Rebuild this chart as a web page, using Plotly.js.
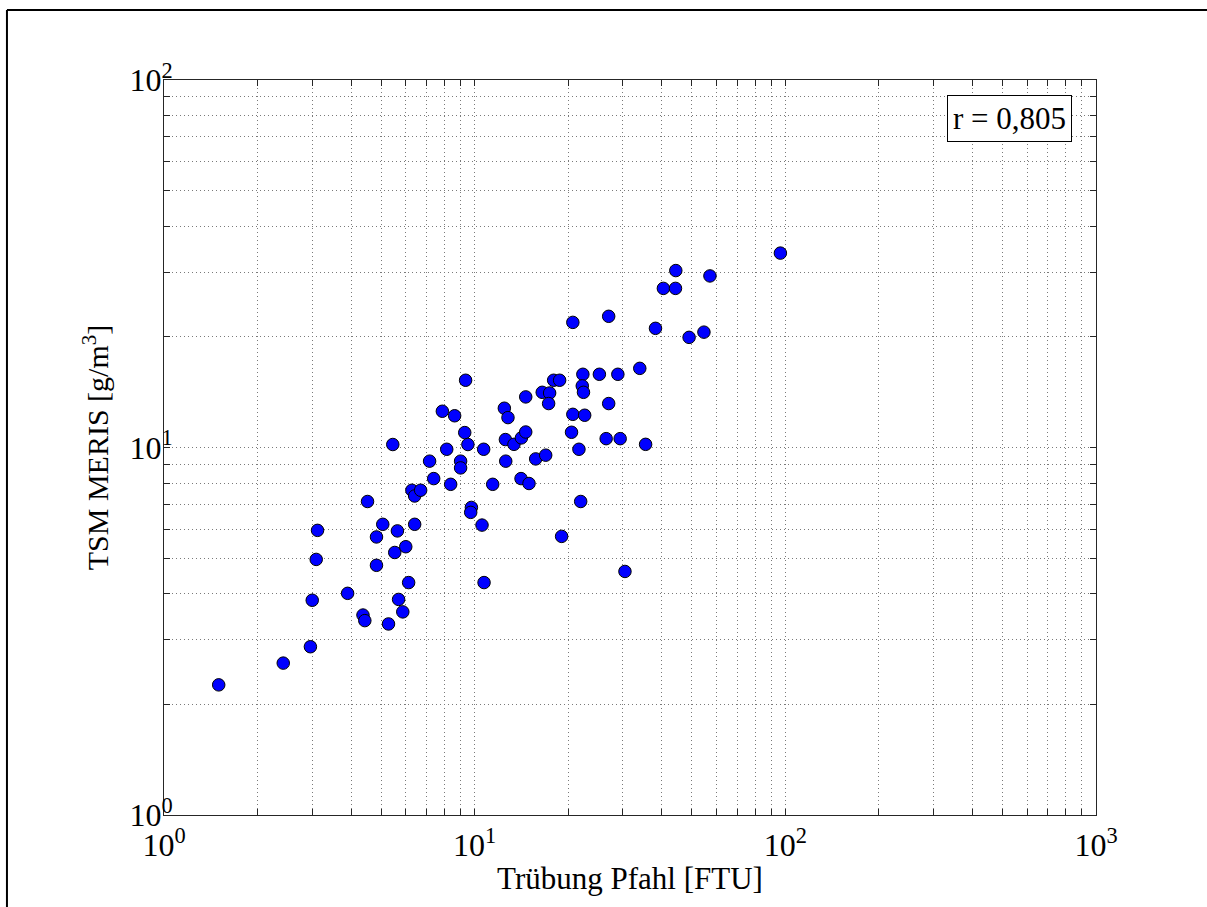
<!DOCTYPE html>
<html>
<head>
<meta charset="utf-8">
<script src="https://cdn.plot.ly/plotly-3.0.1.min.js"></script>
<style>
  html, body { margin: 0; padding: 0; background: #fff; }
  #chart { width: 1207px; height: 907px; }
</style>
</head>
<body>
<div id="chart"></div>
<script>
// Turbidity at the pile (FTU)
const truebung = [
  1.50, 2.42, 2.96, 3.00, 3.09, 3.12, 3.90, 4.37, 4.43, 4.52,
  4.83, 4.83, 5.06, 5.28, 5.45, 5.53, 5.64, 5.69, 5.87, 6.00,
  6.13, 6.28, 6.41, 6.41, 6.70, 7.16, 7.38, 7.87, 8.13, 8.37,
  8.62, 9.01, 9.01, 9.29, 9.35, 9.51, 9.76, 9.71, 10.56, 10.69,
  10.72,
  96.4, 44.4, 57.2, 40.5, 44.3, 20.7, 27.0, 38.2, 49.0, 54.7,
  34.0, 22.3, 25.2, 28.9, 17.96, 18.77, 22.2, 22.4, 16.5, 17.43,
  17.3, 14.6, 27.0, 12.46, 12.8, 20.7, 22.6, 20.5, 12.56, 13.38,
  14.14, 14.6, 21.66, 26.5, 29.4, 35.5, 12.59, 15.72, 16.93, 11.43,
  14.1, 14.96, 19.05, 21.94, 30.46
];
// TSM from MERIS (g/m^3)
const tsmMeris = [
  2.26, 2.59, 2.87, 3.84, 4.96, 5.95, 4.01, 3.50, 3.38, 7.13,
  5.71, 4.78, 6.18, 3.31, 10.19, 5.18, 5.93, 3.86, 3.57, 5.37,
  4.29, 7.65, 7.38, 6.18, 7.65, 9.18, 8.23, 12.55, 9.89, 7.94,
  12.2, 9.18, 8.80, 10.98, 15.24, 10.19, 6.87, 6.66, 6.15, 9.89,
  4.29,
  33.8, 30.3, 29.3, 27.1, 27.1, 21.9, 22.75, 21.1, 19.94, 20.6,
  16.42, 15.82, 15.82, 15.82, 15.24, 15.24, 14.71, 14.13, 14.13, 14.07,
  13.17, 13.73, 13.17, 12.79, 12.06, 12.31, 12.24, 11.0, 10.51, 10.2,
  10.62, 11.02, 9.89, 10.57, 10.57, 10.2, 9.18, 9.31, 9.53, 7.94,
  8.23, 7.98, 5.73, 7.13, 4.60
];

const xTickVals = [1,2,3,4,5,6,7,8,9,10,20,30,40,50,60,70,80,90,100,200,300,400,500,600,700,800,900,1000];
const xTickText = ['10<sup>0</sup>','','','','','','','','','10<sup>1</sup>','','','','','','','','','10<sup>2</sup>','','','','','','','','','10<sup>3</sup>'];
const yTickVals = [1,2,3,4,5,6,7,8,9,10,20,30,40,50,60,70,80,90,100];
const yTickText = ['10<sup>0</sup>','','','','','','','','','10<sup>1</sup>','','','','','','','','','10<sup>2</sup>'];

const corrLabel = 'r = 0,805';
const xTitle = 'Trübung Pfahl [FTU]';
const yTitle = 'TSM MERIS [g/m<sup>3</sup>]';

const FONT = 'Liberation Serif, Times New Roman, serif';

const axisCommon = {
  type: 'log',
  tickmode: 'array',
  ticks: 'inside',
  ticklen: 6,
  tickwidth: 1,
  tickcolor: '#262626',
  showline: true,
  linecolor: '#262626',
  linewidth: 1,
  mirror: 'ticks',
  showgrid: true,
  gridcolor: '#7a7a7a',
  gridwidth: 1,
  griddash: '1px,3px',
  zeroline: false,
  tickfont: { family: FONT, size: 32, color: '#000' }
};

const trace = {
  x: truebung,
  y: tsmMeris,
  type: 'scatter',
  mode: 'markers',
  marker: { color: '#0000ff', size: 12.5, line: { color: '#000', width: 1 } },
  hoverinfo: 'x+y'
};

const layout = {
  width: 1207,
  height: 907,
  margin: { l: 164, r: 111, t: 80, b: 92 },
  paper_bgcolor: '#fff',
  plot_bgcolor: '#fff',
  showlegend: false,
  font: { family: FONT, size: 31, color: '#000' },
  xaxis: Object.assign({}, axisCommon, {
    range: [0, 3],
    tickvals: xTickVals,
    ticktext: xTickText,
    ticklabelstandoff: 2,
    title: { text: xTitle, font: { family: FONT, size: 31, color: '#000' }, standoff: 4 }
  }),
  yaxis: Object.assign({}, axisCommon, {
    range: [0, 2],
    tickvals: yTickVals,
    ticktext: yTickText,
    ticklabelstandoff: -16,
    title: { text: yTitle, font: { family: FONT, size: 30, color: '#000' }, standoff: 11 }
  }),
  annotations: [{
    xref: 'paper', yref: 'paper',
    x: 0.9077, y: 0.947,
    xanchor: 'center', yanchor: 'middle',
    text: corrLabel,
    showarrow: false,
    font: { family: FONT, size: 31, color: '#000' },
    bgcolor: '#fff',
    bordercolor: '#000',
    borderwidth: 1,
    borderpad: 5
  }],
  shapes: [
    { type: 'line', xref: 'paper', yref: 'paper', x0: -0.1685, x1: -0.1685, y0: -0.2, y1: 1.0952, line: { color: '#000', width: 2 } },
    { type: 'line', xref: 'paper', yref: 'paper', x0: -0.1685, x1: 1.2, y0: 1.0952, y1: 1.0952, line: { color: '#000', width: 2 } }
  ]
};

Plotly.newPlot('chart', [trace], layout, { displayModeBar: false, staticPlot: true });
</script>
</body>
</html>
